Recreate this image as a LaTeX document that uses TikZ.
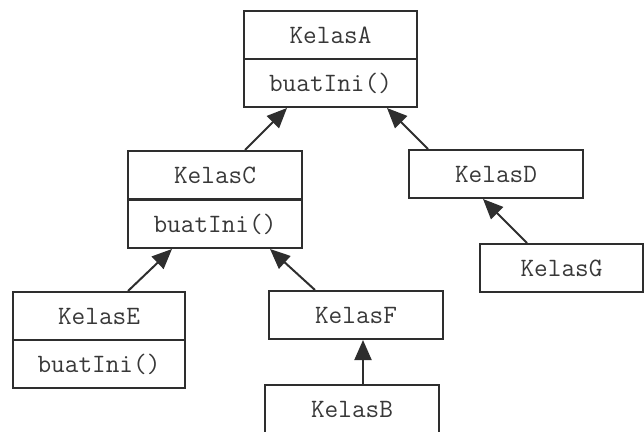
\documentclass[tikz,border=0pt]{standalone}
\usepackage{fontspec}
\usetikzlibrary{arrows.meta}
\definecolor{linec}{HTML}{2E2E2E}
\definecolor{textc}{HTML}{383838}
\begin{document}
\begin{tikzpicture}[x=1pt,y=-1pt,
  cell/.style={draw=linec, line width=2pt, minimum height=48pt, inner sep=0pt,
    font=\ttfamily\fontsize{26.5}{30}\selectfont, text=textc, anchor=north west},
  inh/.style={draw=linec, line width=2pt, -{Triangle[length=20pt,width=17pt]}}]
\useasboundingbox (0,0) rectangle (644,431);
% KelasA
\node[cell, minimum width=173pt] (A) at (243,10) {KelasA};
\node[cell, minimum width=173pt] (Am) at (243,58) {buatIni()};
% KelasC
\node[cell, minimum width=174pt] (C) at (127,150) {KelasC};
\node[cell, minimum width=174pt] (Cm) at (127,199) {buatIni()};
% KelasD
\node[cell, minimum width=174pt] (D) at (408,149) {KelasD};
% KelasG
\node[cell, minimum width=163pt] (G) at (479,243) {KelasG};
% KelasE
\node[cell, minimum width=172pt] (E) at (12,291) {KelasE};
\node[cell, minimum width=172pt] (Em) at (12,339) {buatIni()};
% KelasF
\node[cell, minimum width=174pt] (F) at (268,290) {KelasF};
% KelasB
\node[cell, minimum width=174pt] (B) at (264,384) {KelasB};
% connectors
\draw[inh] ([xshift=118pt]C.north west) -- ([xshift=44pt]Am.south west);
\draw[inh] ([xshift=20pt]D.north west) -- ([xshift=144pt]Am.south west);
\draw[inh] ([xshift=116pt]E.north west) -- ([xshift=45pt]Cm.south west);
\draw[inh] ([xshift=47pt]F.north west) -- ([xshift=143pt]Cm.south west);
\draw[inh] ([xshift=99pt]B.north west) -- ([xshift=95pt]F.south west);
\draw[inh] ([xshift=48pt]G.north west) -- ([xshift=75pt]D.south west);
\end{tikzpicture}
\end{document}
